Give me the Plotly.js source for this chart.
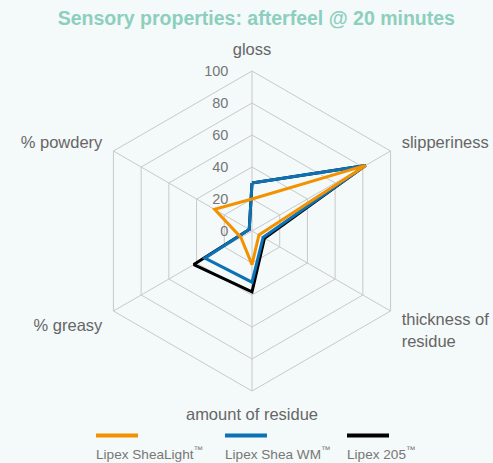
<!DOCTYPE html>
<html>
<head>
<meta charset="utf-8">
<script src="https://cdn.plot.ly/plotly-3.0.1.min.js"></script>
<style>html,body{margin:0;padding:0;background:#f4f9f9;}#chart{width:493px;height:463px;}</style>
</head>
<body>
<div id="chart"></div>
<script>
const categories = ["gloss", "slipperiness", "thickness of<br>residue", "amount of residue", "% greasy", "% powdery"];
const seriesNames = ["Lipex SheaLight<sup>™</sup>", "Lipex Shea WM<sup>™</sup>", "Lipex 205<sup>™</sup>"];
const sheaLight = [20, 82, 5, 21, 8, 27];
const sheaWM = [30, 82, 8, 32, 34, 2];
const lipex205 = [30, 82, 9, 38, 42, 2];
const radialTicks = [0, 20, 40, 60, 80, 100];
const colors = ["#f39200", "#0b72b5", "#000000"];

const seriesValues = [sheaLight, sheaWM, lipex205];
const close = a => a.concat([a[0]]);
const traces = [];
for (let i = seriesValues.length - 1; i >= 0; i--) {
  traces.push({
    type: "scatterpolar",
    mode: "lines",
    r: close(seriesValues[i]),
    theta: close(categories),
    name: seriesNames[i],
    line: {color: colors[i], width: 3},
    showlegend: false,
    hoverinfo: "skip"
  });
}

const legX = [96, 225, 347];
const shapes = [], annotations = [];
seriesNames.forEach((n, i) => {
  shapes.push({type: "line", xref: "paper", yref: "paper",
    x0: legX[i] / 493, x1: (legX[i] + 42) / 493,
    y0: 1 - 435.5 / 463, y1: 1 - 435.5 / 463,
    line: {color: colors[i], width: 4}});
  annotations.push({xref: "paper", yref: "paper", x: (legX[i] - 2) / 493, y: 1 - 453 / 463,
    xanchor: "left", yanchor: "middle", showarrow: false, text: n,
    font: {family: "Liberation Sans, Arial, sans-serif", size: 13.6, color: "#777777"}});
});

const layout = {
  width: 493, height: 463,
  paper_bgcolor: "#f4f9f9",
  plot_bgcolor: "#f4f9f9",
  margin: {l: 0, r: 0, t: 0, b: 0},
  font: {family: "Liberation Sans, Arial, sans-serif", color: "#666666"},
  title: {text: "<b>Sensory properties: afterfeel @ 20 minutes</b>",
    font: {family: "Liberation Sans, Arial, sans-serif", size: 19.5, color: "#8ccfbe"},
    x: 0.52, xanchor: "center", y: 1 - 18 / 463, yref: "container", yanchor: "middle"},
  polar: {
    bgcolor: "#f4f9f9",
    gridshape: "linear",
    domain: {x: [92 / 493, 412 / 493], y: [72 / 463, 392 / 463]},
    angularaxis: {
      type: "category",
      categoryarray: categories,
      direction: "clockwise",
      rotation: 90,
      showline: true,
      linecolor: "#c9c9c9",
      linewidth: 1,
      gridcolor: "#c9c9c9",
      gridwidth: 1,
      ticks: "outside",
      ticklen: 9,
      tickcolor: "rgba(0,0,0,0)",
      tickfont: {size: 16.5, color: "#666666"}
    },
    radialaxis: {
      range: [0, 100],
      tickvals: radialTicks,
      ticktext: radialTicks.map(String),
      angle: 90,
      tickangle: 90,
      side: "counterclockwise",
      showline: false,
      gridcolor: "#c9c9c9",
      gridwidth: 1,
      ticks: "outside",
      ticklen: 18,
      tickcolor: "rgba(0,0,0,0)",
      tickfont: {size: 14.5, color: "#777777"}
    }
  },
  shapes: shapes,
  annotations: annotations
};

Plotly.newPlot("chart", traces, layout, {displayModeBar: false, staticPlot: true});
</script>
</body>
</html>
